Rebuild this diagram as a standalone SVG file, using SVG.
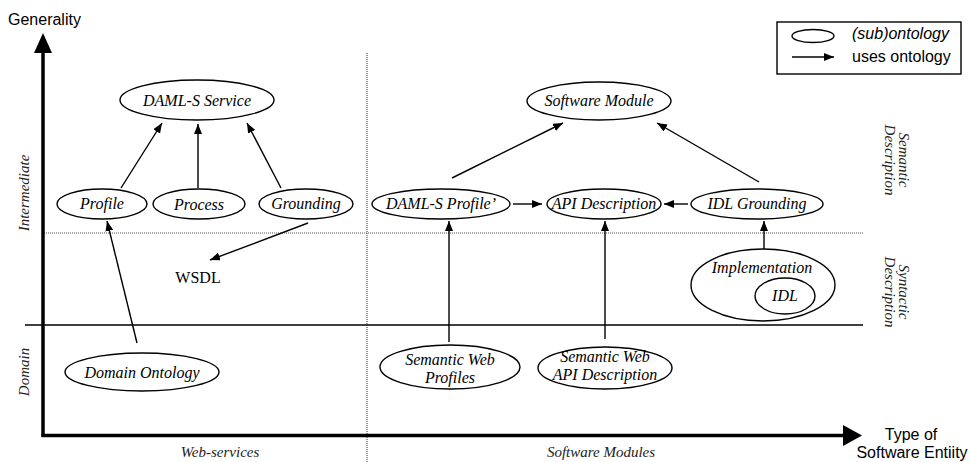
<svg xmlns="http://www.w3.org/2000/svg" width="970" height="462" viewBox="0 0 970 462">
  <style>
    .node { fill: none; stroke: #000; stroke-width: 1.4; }
    .serif { font-family: "Liberation Serif", "Times New Roman", Times, serif; }
    .lbl { font-family: "Liberation Serif", "Times New Roman", Times, serif; font-style: italic; font-size: 16px; fill: #000; text-anchor: middle; }
    .side { font-family: "Liberation Serif", "Times New Roman", Times, serif; font-style: italic; font-size: 15px; fill: #222; text-anchor: middle; }
    .sans { font-family: "Liberation Sans", Arial, sans-serif; font-size: 16px; fill: #000; }
    .edge { stroke: #000; stroke-width: 1.4; fill: none; marker-end: url(#ah); }
    .dot { stroke: #555; stroke-width: 1.2; stroke-dasharray: 1 1; fill: none; }
  </style>
  <defs>
    <marker id="ah" viewBox="0 0 10 8" refX="10" refY="4" markerWidth="10" markerHeight="8" markerUnits="userSpaceOnUse" orient="auto">
      <path d="M0,0 L10,4 L0,8 z" fill="#000"/>
    </marker>
  </defs>
  <rect width="970" height="462" fill="#fff"/>

  <!-- grid lines -->
  <g id="grid">
    <line class="dot" x1="367" y1="53" x2="367" y2="462"/>
    <line class="dot" x1="44" y1="233" x2="863" y2="233"/>
    <line x1="25" y1="325" x2="863" y2="325" stroke="#000" stroke-width="1.5"/>
  </g>

  <!-- axes -->
  <g id="axes">
    <line x1="43" y1="52" x2="43" y2="437" stroke="#000" stroke-width="3.5"/>
    <path d="M34,53 L43,33 L52,53 z" fill="#000"/>
    <line x1="41.5" y1="435.5" x2="844" y2="435.5" stroke="#000" stroke-width="3.5"/>
    <path d="M843,425 L862,435.5 L843,446 z" fill="#000"/>
    <text class="sans" x="8" y="25" font-size="17">Generality</text>
    <text class="sans" x="911" y="440" text-anchor="middle">Type of</text>
    <text class="sans" x="912" y="458" text-anchor="middle">Software Entiity</text>
    <text class="side" x="220" y="457" font-size="16">Web-services</text>
    <text class="side" x="601" y="457" font-size="16">Software Modules</text>
    <text class="side" transform="translate(29,193) rotate(-90)" font-size="16">Intermediate</text>
    <text class="side" transform="translate(29,372) rotate(-90)" font-size="16">Domain</text>
    <text class="side" transform="translate(899,160) rotate(90)"><tspan x="0" y="0">Semantic</tspan><tspan x="0" y="14">Description</tspan></text>
    <text class="side" transform="translate(899,292) rotate(90)"><tspan x="0" y="0">Syntactic</tspan><tspan x="0" y="14">Description</tspan></text>
  </g>

  <!-- legend -->
  <g id="legend">
    <rect x="777" y="22" width="184" height="52" fill="#fff" stroke="#000" stroke-width="1.4"/>
    <ellipse cx="813" cy="36" rx="21" ry="6.5" class="node"/>
    <text class="sans" x="852" y="39" font-style="italic" font-size="15">(sub)ontology</text>
    <line class="edge" x1="792" y1="57" x2="834" y2="57"/>
    <text class="sans" x="852" y="62" font-size="15">uses ontology</text>
  </g>

  <!-- web-service ontologies -->
  <g id="daml-s-service">
    <ellipse cx="197" cy="100" rx="77" ry="20" class="node"/>
    <text class="lbl" x="197" y="106">DAML-S Service</text>
  </g>
  <g id="profile">
    <ellipse cx="102" cy="204" rx="45" ry="15" class="node"/>
    <text class="lbl" x="102" y="209">Profile</text>
  </g>
  <g id="process">
    <ellipse cx="199" cy="204" rx="46" ry="15" class="node"/>
    <text class="lbl" x="199" y="210">Process</text>
  </g>
  <g id="grounding">
    <ellipse cx="306" cy="204" rx="47" ry="15" class="node"/>
    <text class="lbl" x="306" y="209">Grounding</text>
  </g>
  <g id="wsdl">
    <text class="serif" x="198" y="283" font-size="16" text-anchor="middle">WSDL</text>
  </g>
  <g id="domain-ontology">
    <ellipse cx="142" cy="372" rx="77" ry="19" class="node"/>
    <text class="lbl" x="142" y="378">Domain Ontology</text>
  </g>

  <!-- software module ontologies -->
  <g id="software-module">
    <ellipse cx="599" cy="101" rx="72" ry="19" class="node"/>
    <text class="lbl" x="599" y="106">Software Module</text>
  </g>
  <g id="daml-s-profile2">
    <ellipse cx="441" cy="204" rx="69" ry="15" class="node"/>
    <text class="lbl" x="441" y="209">DAML-S Profile’</text>
  </g>
  <g id="api-description">
    <ellipse cx="604" cy="204" rx="57" ry="15" class="node"/>
    <text class="lbl" x="604" y="209">API Description</text>
  </g>
  <g id="idl-grounding">
    <ellipse cx="757" cy="204" rx="66" ry="15" class="node"/>
    <text class="lbl" x="757" y="209">IDL Grounding</text>
  </g>
  <g id="implementation">
    <ellipse cx="763" cy="285" rx="72" ry="36" class="node"/>
    <text class="lbl" x="762" y="273">Implementation</text>
  </g>
  <g id="idl">
    <ellipse cx="785" cy="296" rx="30" ry="18" class="node"/>
    <text class="lbl" x="785" y="301">IDL</text>
  </g>
  <g id="sw-profiles">
    <ellipse cx="450" cy="367" rx="70" ry="22" class="node"/>
    <text class="lbl" x="450" y="365">Semantic Web</text>
    <text class="lbl" x="450" y="383">Profiles</text>
  </g>
  <g id="sw-api-description">
    <ellipse cx="605" cy="368" rx="67" ry="21" class="node"/>
    <text class="lbl" x="605" y="362">Semantic Web</text>
    <text class="lbl" x="605" y="380">API Description</text>
  </g>

  <!-- uses-ontology connectors -->
  <g id="connectors">
    <line class="edge" x1="121" y1="188" x2="162" y2="123"/>
    <line class="edge" x1="198" y1="188" x2="198" y2="124"/>
    <line class="edge" x1="281" y1="188" x2="247" y2="123"/>
    <line class="edge" x1="308" y1="223" x2="210" y2="260"/>
    <line class="edge" x1="137" y1="343" x2="107" y2="221"/>
    <line class="edge" x1="452" y1="178" x2="563" y2="123"/>
    <line class="edge" x1="759" y1="182" x2="657" y2="123"/>
    <line class="edge" x1="513" y1="204" x2="542" y2="204"/>
    <line class="edge" x1="688" y1="204" x2="664" y2="204"/>
    <line class="edge" x1="764" y1="249" x2="764" y2="221"/>
    <line class="edge" x1="449" y1="342" x2="449" y2="221"/>
    <line class="edge" x1="605" y1="339" x2="605" y2="221"/>
  </g>
</svg>
